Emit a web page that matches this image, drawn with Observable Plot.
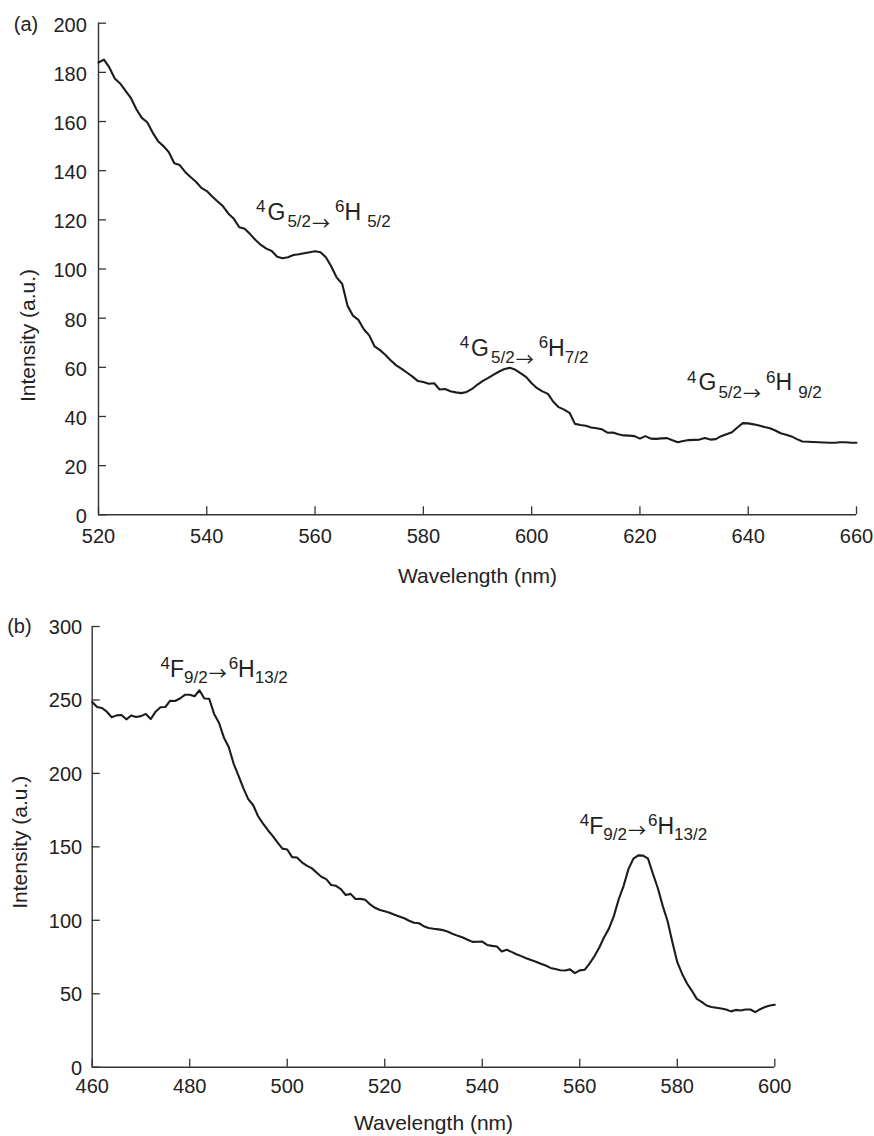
<!DOCTYPE html>
<html><head><meta charset="utf-8">
<script src="https://cdn.jsdelivr.net/npm/d3@7"></script>
<script src="https://cdn.jsdelivr.net/npm/@observablehq/plot@0.6"></script>
<style>
body { margin: 0; background: #fff; }
svg { display: block; }
</style></head><body><div id="chart"></div>
<script>
// ---------- Panel (a) ----------
const wavelengthA = [
520,521,522,523,524,525,526,527,528,529,
530,531,532,533,534,535,536,537,538,539,
540,541,542,543,544,545,546,547,548,549,
550,551,552,553,554,555,556,557,558,559,
560,561,562,563,564,565,566,567,568,569,
570,571,572,573,574,575,576,577,578,579,
580,581,582,583,584,585,586,587,588,589,
590,591,592,593,594,595,596,597,598,599,
600,601,602,603,604,605,606,607,608,609,
610,611,612,613,614,615,616,617,618,619,
620,621,622,623,624,625,626,627,628,629,
630,631,632,633,634,635,636,637,638,639,
640,641,642,643,644,645,646,647,648,649,
650,651,652,653,654,655,656,657,658,659,
660];
const intensityA = [
184,185.2,182,177.5,175.5,172.5,169.5,165,161.5,159.7,
155.5,152,150,147.5,143,142.3,139.5,137.4,135.5,133,
131.7,129.5,127.5,125.5,122.5,120.4,117,116.4,114.2,111.8,
109.8,108.3,107.3,105,104.4,104.8,105.7,106,106.4,106.8,
107.2,106.8,104.8,101,96.5,94,85,81,79.3,75.5,
73,68.5,67,65,62.8,60.8,59.4,57.8,56.2,54.4,
54,53.3,53.5,51,51.2,50.3,49.8,49.5,50,51.2,
53,54.5,55.7,57,58.3,59.3,59.8,59,57.5,56,
53.5,51.5,50.2,49.2,46,43.8,42.8,41.5,37,36.5,
36.2,35.5,35.2,34.8,33.4,33.5,32.8,32.3,32.2,32,
31,32,31,30.9,31.1,31.2,30.3,29.5,30,30.4,
30.5,30.6,31.2,30.6,30.8,32,32.8,33.6,35.5,37.3,
37.2,36.8,36.3,35.7,35.2,34.3,33.2,32.6,31.9,30.8,
29.8,29.7,29.6,29.5,29.4,29.3,29.3,29.5,29.5,29.3,
29.3];
const xTicksA = [520,540,560,580,600,620,640,660];
const yTicksA = [0,20,40,60,80,100,120,140,160,180,200];
const annoAx = [549.1, 586.7, 628.7];
const annoAy = [120, 64.8, 50.6];
const annoAtext = [
  "{^4}{~2}G{~2}{_5/2}{~1}→{~5}{^6}H{~6}{_5/2}",
  "{^4}{~2}G{~2}{_5/2}{~1}→{~5}{^6}H{_7/2}",
  "{^4}{~2}G{~2}{_5/2}{~1}→{~5}{^6}H{~6}{_9/2}"
];

// ---------- Panel (b) ----------
const wavelengthB = [
460,461,462,463,464,465,466,467,468,469,
470,471,472,473,474,475,476,477,478,479,
480,481,482,483,484,485,486,487,488,489,
490,491,492,493,494,495,496,497,498,499,
500,501,502,503,504,505,506,507,508,509,
510,511,512,513,514,515,516,517,518,519,
520,521,522,523,524,525,526,527,528,529,
530,531,532,533,534,535,536,537,538,539,
540,541,542,543,544,545,546,547,548,549,
550,551,552,553,554,555,556,557,558,559,
560,561,562,563,564,565,566,567,568,569,
570,571,572,573,574,575,576,577,578,579,
580,581,582,583,584,585,586,587,588,589,
590,591,592,593,594,595,596,597,598,599,
600];
const intensityB = [
248.6,245.2,244.5,242,238.2,239.5,239.8,236.8,239.4,238.4,
239,240.5,237,242,245,245.2,249.5,249.3,251,253.5,
253.5,252.5,256.6,251,250.8,240.5,234.5,224.5,218,206.7,
198.5,190,182.5,178.5,171,166,161.5,157.5,153,148.8,
148.2,143,142.8,139.5,137.2,135.5,132.5,129.6,128,124,
123.5,121.2,117.2,118,114.5,114.6,114,110.8,108.5,107,
106.2,105.2,103.8,102.6,101.4,99.7,98.3,98,96,94.8,
94.2,93.8,93.3,92.2,90.6,89.4,88.3,86.8,85.3,85.4,
85.5,83.2,82.6,82.2,78.8,80,78.5,76.9,75.6,74.2,
73,71.8,70.4,69.2,67.6,66.8,66,65.8,66.6,64,
65.9,66.3,70.5,75.5,81.5,88.5,94.5,103,114.5,123.5,
135,142,144.2,144,142,131.7,122,110,99.5,85,
71.5,63.5,57,52,46.5,44.5,42,41,40.5,40,
39.3,38,39,38.6,39.3,39.3,37.5,39.5,41,42,
42.5];
const xTicksB = [460,480,500,520,540,560,580,600];
const yTicksB = [0,50,100,150,200,250,300];
const annoBx = [474, 560];
const annoBy = [265.7, 159];
const annoBtext = ["{^4}F{_9/2}{~1}→{~2}{^6}H{_13/2}", "{^4}F{_9/2}{~1}→{~2}{^6}H{_13/2}"];

const FONT = "Liberation Sans, Arial, Helvetica, sans-serif";
const INK = "#1c1c1c";
const AXIS = "#333";

// turn "{^x}" / "{_x}" markup into real superscript / subscript tspans; "{~n}" adds n px before the next piece
const SVGNS = "http://www.w3.org/2000/svg";
function richify(svg, cfg) {
  svg.querySelectorAll("text").forEach(t => {
    const s = t.textContent;
    if (!s.includes("{")) return;
    while (t.firstChild) t.removeChild(t.firstChild);
    const re = /\{([\^_~])([^}]*)\}|(→)|([^{→]+)/g;
    const tokens = [];
    let m, gap = 0;
    while ((m = re.exec(s))) {
      let tk;
      if (m[1] === "~") { gap += +m[2]; continue; }
      if (m[1] === "^") tk = {text: m[2], shift: -cfg.sup, size: cfg.script};
      else if (m[1] === "_") tk = {text: m[2], shift: cfg.sub, size: cfg.script};
      else if (m[3]) tk = {text: m[3], shift: cfg.arrowShift, size: cfg.arrowSize, family: "Noto Sans CJK JP"};
      else tk = {text: m[4], shift: 0, size: null};
      tk.dx = gap; gap = 0;
      tokens.push(tk);
    }
    let cur = 0;
    for (const tk of tokens) {
      const ts = document.createElementNS(SVGNS, "tspan");
      ts.setAttribute("dy", tk.shift - cur);
      cur = tk.shift;
      if (tk.dx) ts.setAttribute("dx", tk.dx);
      if (tk.size) ts.setAttribute("font-size", tk.size);
      if (tk.family) ts.setAttribute("font-family", tk.family);
      ts.textContent = tk.text;
      t.appendChild(ts);
    }
  });
}

function panel(o) {
  const data = o.wl.map((w, i) => ({w, v: o.iv[i]}));
  const svg = Plot.plot({
    width: 874,
    height: o.height,
    marginTop: o.mt, marginBottom: o.mb, marginLeft: o.ml, marginRight: o.mr,
    style: {fontFamily: FONT, color: "#222", background: "#fff", overflow: "visible"},
    x: {domain: o.xd},
    y: {domain: o.yd},
    marks: [
      Plot.ruleX([o.xd[0]], {stroke: AXIS, strokeWidth: 1.4}),
      Plot.ruleY([o.yd[0]], {stroke: AXIS, strokeWidth: 1.4}),
      Plot.axisX({ticks: o.xt, tickSize: -8, tickFormat: () => "", label: null, stroke: AXIS, strokeWidth: 1.3}),
      Plot.axisY({ticks: o.yt, tickSize: -8, tickFormat: () => "", label: null, stroke: AXIS, strokeWidth: 1.3}),
      Plot.axisX({ticks: o.xt, tickSize: 0, tickPadding: o.xpad, label: null, fontSize: 20, fill: "#222"}),
      Plot.axisY({ticks: o.yt, tickSize: 0, tickPadding: o.ypad, label: null, fontSize: 20, fill: "#222", dy: o.ydy}),
      Plot.line(data, {x: "w", y: "v", stroke: INK, strokeWidth: 2.1, strokeLinejoin: "round"}),
      Plot.text(o.at, {x: (d, i) => o.ax[i], y: (d, i) => o.ay[i], text: d => d,
        textAnchor: "start", lineAnchor: "bottom", fontSize: 23, fill: "#222"}),
      Plot.text(["Intensity (a.u.)"], {frameAnchor: "left", rotate: -90, textAnchor: "middle", lineAnchor: "top",
        dx: o.ylx, dy: o.yly, fontSize: 21, fill: "#222"}),
      Plot.text(["Wavelength (nm)"], {frameAnchor: "bottom", lineAnchor: "bottom", dy: o.xly, fontSize: 21, fill: "#222"}),
      Plot.text([o.tag], {frameAnchor: "top-left", textAnchor: "start", lineAnchor: "bottom",
        dx: o.tagdx, dy: o.tagdy, fontSize: 20, fill: "#222"})
    ]
  });
  richify(svg, o.rich);
  return svg;
}

const root = document.getElementById("chart");
root.appendChild(panel({
  wl: wavelengthA, iv: intensityA, xd: [520, 660], yd: [0, 200], xt: xTicksA, yt: yTicksA,
  height: 600, mt: 22.7, mb: 85.7, ml: 98, mr: 18,
  xpad: 14, ypad: 11.7, ydy: 2,
  ax: annoAx, ay: annoAy, at: annoAtext,
  ylx: -78.7, yly: 66.5, xly: 67.7, tag: "(a)", tagdx: -84.7, tagdy: 7.8,
  rich: {sup: 7.8, sub: 7.6, script: 17, arrowShift: 10, arrowSize: 18}
}));
root.appendChild(panel({
  wl: wavelengthB, iv: intensityB, xd: [460, 600], yd: [0, 300], xt: xTicksB, yt: yTicksB,
  height: 536, mt: 26, mb: 69.3, ml: 91.7, mr: 99.7,
  xpad: 11.7, ypad: 10, ydy: 1,
  ax: annoBx, ay: annoBy, at: annoBtext,
  ylx: -80, yly: -4.6, xly: 62.8, tag: "(b)", tagdx: -85, tagdy: 6,
  rich: {sup: 7.6, sub: 6.2, script: 17, arrowShift: 3.5, arrowSize: 18}
}));
</script></body></html>
